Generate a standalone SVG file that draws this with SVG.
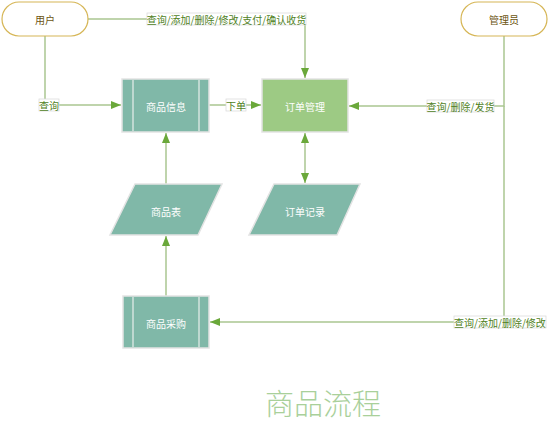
<svg xmlns="http://www.w3.org/2000/svg" width="554" height="423" viewBox="0 0 554 423">
<style>
text{font-family:"Noto Sans CJK SC","Liberation Sans",sans-serif;font-size:10px;text-anchor:middle;dominant-baseline:central}
.term{fill:#fff;stroke:#d6b656;stroke-width:1.2}
.tt{fill:#6b5410}
.proc{fill:#80b8a8;stroke:#e3e3e3;stroke-width:1.5}
.inner{stroke:#e8efec;stroke-width:1.2}
.order{fill:#9dca84;stroke:#e3e3e3;stroke-width:1.5}
.nt{fill:#fff}
.ln{fill:none;stroke:#aac691;stroke-width:1.5}
.lb{fill:#fff;stroke:#dcdcdc;stroke-width:0.8}
.lt{fill:#4f7f1c}
</style>
<defs>
<marker id="ah" viewBox="0 0 10 10" refX="10" refY="5" markerWidth="10" markerHeight="10" markerUnits="userSpaceOnUse" orient="auto-start-reverse">
<path d="M0,1 L10,5 L0,9 Z" fill="#6aa83a"/>
</marker>
</defs>
<g id="connectors">
<path class="ln" d="M88,19 H305 V78" marker-end="url(#ah)"/>
<path class="ln" d="M45,36 V105 H121" marker-end="url(#ah)"/>
<path class="ln" d="M209,105 H261" marker-end="url(#ah)"/>
<path class="ln" d="M504,36 V106 H349" marker-end="url(#ah)"/>
<path class="ln" d="M504,106 V322 H210" marker-end="url(#ah)"/>
<path class="ln" d="M166,184 V133" marker-end="url(#ah)"/>
<path class="ln" d="M166,296 V236" marker-end="url(#ah)"/>
<path class="ln" d="M305,133 V183" marker-start="url(#ah)" marker-end="url(#ah)"/>
<rect class="lb" x="147" y="13" width="159" height="12"/>
<text class="lt" x="226.5" y="19">查询/添加/删除/修改/支付/确认收货</text>
<rect class="lb" x="39" y="99" width="20" height="12"/>
<text class="lt" x="49" y="105">查询</text>
<rect class="lb" x="226" y="99" width="20" height="12"/>
<text class="lt" x="236" y="105">下单</text>
<rect class="lb" x="427" y="100" width="67" height="12"/>
<text class="lt" x="460.5" y="106">查询/删除/发货</text>
<rect class="lb" x="454" y="316" width="92" height="12"/>
<text class="lt" x="500" y="322">查询/添加/删除/修改</text>
</g>
<g id="user">
<rect class="term" x="2" y="2" width="86" height="34" rx="17"/>
<text class="tt" x="45" y="19">用户</text>
</g>
<g id="admin">
<rect class="term" x="461" y="2" width="86" height="34" rx="17"/>
<text class="tt" x="504" y="19">管理员</text>
</g>
<g id="product-info">
<rect class="proc" x="122" y="79" width="87" height="53"/>
<line class="inner" x1="133" y1="80" x2="133" y2="131"/>
<line class="inner" x1="199" y1="80" x2="199" y2="131"/>
<text class="nt" x="166" y="106">商品信息</text>
</g>
<g id="order-manage">
<rect class="order" x="262" y="79" width="86" height="53"/>
<text class="nt" x="305" y="106">订单管理</text>
</g>
<g id="product-table">
<polygon class="proc" points="135,184 222,184 198,235 110,235"/>
<text class="nt" x="166" y="211">商品表</text>
</g>
<g id="order-record">
<polygon class="proc" points="274,184 360,184 337,235 249,235"/>
<text class="nt" x="305" y="211">订单记录</text>
</g>
<g id="product-purchase">
<rect class="proc" x="123" y="296" width="86" height="52"/>
<line class="inner" x1="133" y1="297" x2="133" y2="347"/>
<line class="inner" x1="199" y1="297" x2="199" y2="347"/>
<text class="nt" x="166" y="323">商品采购</text>
</g>
<text x="323" y="402" style="font-size:29px;fill:#a9d09a;font-weight:300">商品流程</text>
</svg>
